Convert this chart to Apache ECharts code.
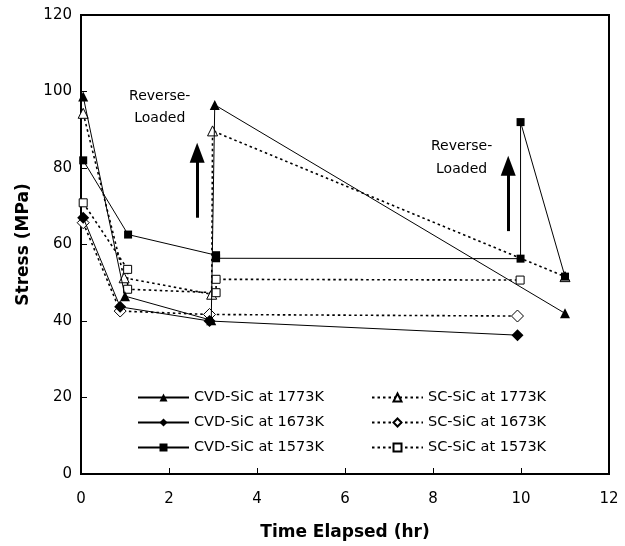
<!DOCTYPE html>
<html><head><meta charset="utf-8">
<script src="https://cdn.jsdelivr.net/npm/echarts@6/dist/echarts.min.js"></script>
<style>html,body{margin:0;padding:0;background:#fff}#c{width:625px;height:546px}</style>
</head><body><div id="c"></div>
<script>
// [time (hr), stress (MPa)]
const cvd1773 = [[0.05,98.7],[1.0,46.5],[2.96,40.2],[3.04,96.5],[11.0,42.0]];
const sc1773  = [[0.05,94.3],[0.98,51.3],[2.97,47.0],[2.99,89.7],[11.0,51.6]];
const cvd1673 = [[0.05,67.0],[0.89,43.7],[2.92,40.0],[9.92,36.3]];
const sc1673  = [[0.05,65.7],[0.89,42.6],[2.92,41.7],[9.92,41.3]];
const cvd1573 = [[0.05,82.0],[1.07,62.6],[3.07,57.2],[3.07,56.4],[9.99,56.3],[9.99,92.0],[11.0,51.6]];
const sc1573  = [[0.05,70.9],[1.06,53.5],[1.06,48.3],[3.07,47.4],[3.07,50.9],[9.98,50.7]];

const seriesNames = ['CVD-SiC at 1773K','SC-SiC at 1773K','CVD-SiC at 1673K','SC-SiC at 1673K','CVD-SiC at 1573K','SC-SiC at 1573K'];

// annotation text anchors (data coords) and arrows
const labelLines = [[1.79,98.7,'Reverse-'],[1.79,93.0,'Loaded'],[8.65,85.7,'Reverse-'],[8.65,79.6,'Loaded']];
const arrows = [[[2.64,67.0],[2.64,84.0]],[[9.71,63.5],[9.71,80.6]]];

const FONT = 'DejaVu Sans';
const solid = {color:'#000', width:1, type:'solid'};
const dotted = {color:'#000', width:1.6, type:[2.5,3]};
function mk(name, data, symbol, size, filled, ls) {
  return {
    name, type:'line', data, symbol, symbolSize:size, showSymbol:true,
    lineStyle: ls, animation:false,
    itemStyle: filled ? {color:'#000', borderColor:'#000', borderWidth:0}
                      : {color:'#fff', borderColor:'#000', borderWidth:1},
    emphasis:{disabled:true}, z: filled ? 4 : 3
  };
}
const series = [
  mk(seriesNames[1], sc1773, 'triangle', 10, false, dotted),
  mk(seriesNames[3], sc1673, 'diamond', 12, false, dotted),
  mk(seriesNames[5], sc1573, 'rect', 8, false, dotted),
  mk(seriesNames[0], cvd1773, 'triangle', 10, true, solid),
  mk(seriesNames[2], cvd1673, 'diamond', 12, true, solid),
  mk(seriesNames[4], cvd1573, 'rect', 8, true, solid),
  {
    type:'custom', name:'annotText', silent:true, animation:false, z:6,
    data: labelLines.map(d => [d[0], d[1]]),
    renderItem: function (params, api) {
      const p = api.coord([api.value(0), api.value(1)]);
      return {type:'text', x:p[0], y:p[1], silent:true,
        style:{text:labelLines[params.dataIndex][2], fill:'#000', font:'14px "DejaVu Sans"',
               textAlign:'center', textVerticalAlign:'middle'}};
    },
    markLine:{
      silent:true, animation:false, symbol:['none','triangle'], symbolSize:[15,20],
      lineStyle:{color:'#000', width:3, type:'solid'},
      itemStyle:{color:'#000'},
      label:{show:false},
      data: arrows.map(a => [{coord:a[0]},{coord:a[1]}])
    }
  }
];
const legendCommon = {
  orient:'vertical', itemWidth:51, itemHeight:10, itemGap:10,
  textStyle:{fontFamily:FONT, fontSize:14.5, color:'#000'}, selectedMode:false
};
const option = {
  animation:false,
  grid:{left:81, right:16, top:15, bottom:71, show:true, borderColor:'#000', borderWidth:2, backgroundColor:'transparent'},
  xAxis:{type:'value', min:0, max:12, interval:2,
    name:'Time Elapsed (hr)', nameLocation:'middle', nameGap:50,
    nameTextStyle:{fontFamily:FONT, fontSize:17, fontWeight:'bold', color:'#000'},
    axisLine:{show:true, lineStyle:{color:'#000', width:2}},
    axisTick:{show:true, inside:true, length:6, lineStyle:{color:'#000', width:1}},
    axisLabel:{fontFamily:FONT, fontSize:15, color:'#000', margin:18},
    splitLine:{show:false}},
  yAxis:{type:'value', min:0, max:120, interval:20,
    name:'Stress (MPa)', nameLocation:'middle', nameGap:48,
    nameTextStyle:{fontFamily:FONT, fontSize:17, fontWeight:'bold', color:'#000'},
    axisLine:{show:true, lineStyle:{color:'#000', width:2}},
    axisTick:{show:true, inside:true, length:6, lineStyle:{color:'#000', width:1}},
    axisLabel:{fontFamily:FONT, fontSize:15, color:'#000', margin:9},
    splitLine:{show:false}},
  legend:[
    Object.assign({}, legendCommon, {left:132, top:385, data:[seriesNames[0],seriesNames[2],seriesNames[4]]}),
    Object.assign({}, legendCommon, {left:366, top:385, data:[seriesNames[1],seriesNames[3],seriesNames[5]]})
  ],
  series
};
const chart = echarts.init(document.getElementById('c'), null, {renderer:'canvas'});
chart.setOption(option);
</script></body></html>
